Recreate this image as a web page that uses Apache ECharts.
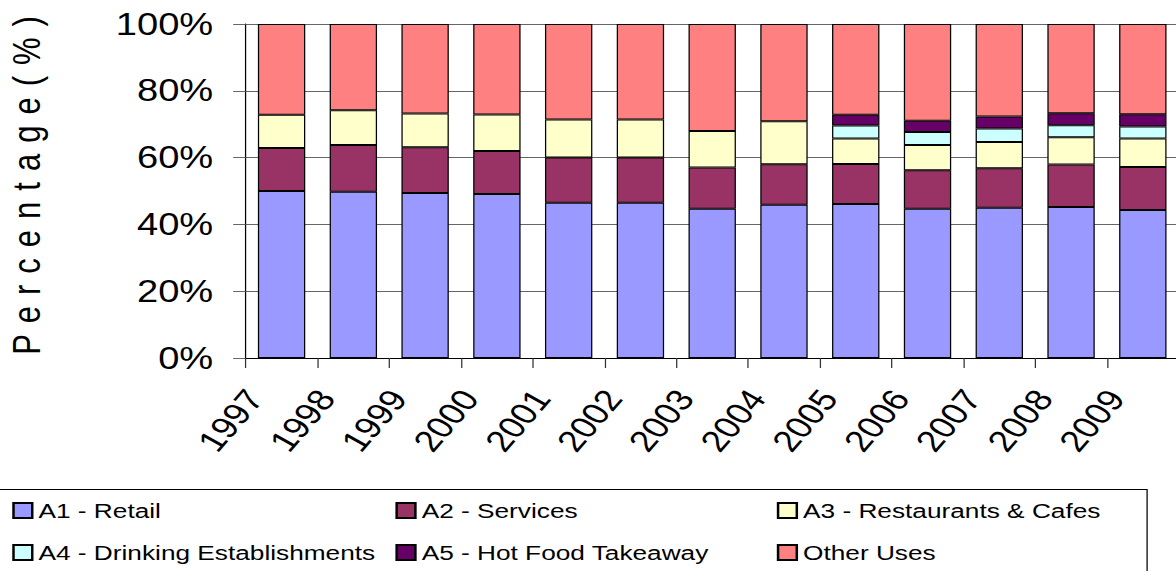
<!DOCTYPE html>
<html>
<head>
<meta charset="utf-8">
<script src="https://cdn.jsdelivr.net/npm/echarts@6/dist/echarts.min.js"></script>
<style>
    html, body { margin: 0; padding: 0; background: #fff; overflow: hidden; }
    /* the source picture is stretched sideways, so the chart is drawn narrow and widened */
    #main { width: 941px; height: 571px; transform: scaleX(1.2497); transform-origin: 0 0; }
    /* spaced-out axis title */
    #main text[style*="31px"] { letter-spacing: 11px; }
</style>
</head>
<body>
<div id="main"></div>
<script>
// 各年份的用途占比 (%)
const years = ['1997', '1998', '1999', '2000', '2001', '2002', '2003', '2004', '2005', '2006', '2007', '2008', '2009']
const retail = [50.0, 49.8, 49.4, 49.1, 46.5, 46.5, 44.7, 45.9, 46.1, 44.7, 45.0, 45.2, 44.3]
const services = [12.9, 14.0, 13.7, 12.9, 13.5, 13.5, 12.3, 12.1, 12.0, 11.5, 11.8, 12.7, 12.9]
const restaurants = [9.9, 10.4, 10.1, 10.9, 11.4, 11.4, 11.0, 12.9, 7.6, 7.6, 7.9, 8.2, 8.5]
const drinking = [null, null, null, null, null, null, null, null, 3.9, 3.9, 4.0, 3.6, 3.6]
const hotFood = [null, null, null, null, null, null, null, null, 3.2, 3.3, 3.6, 3.6, 3.7]
const otherUses = [27.2, 25.8, 26.8, 27.1, 28.6, 28.6, 32.0, 29.1, 27.2, 29.0, 27.7, 26.7, 27.0]
const yTicks = [0, 20, 40, 60, 80, 100]

const seriesNames = ['A1 - Retail', 'A2 - Services', 'A3 - Restaurants & Cafes',
    'A4 - Drinking Establishments', 'A5 - Hot Food Takeaway', 'Other Uses']
const seriesData = [retail, services, restaurants, drinking, hotFood, otherUses]
const seriesColors = ['#9999FF', '#993366', '#FFFFCC', '#CCFFFF', '#660066', '#FF8080']

const font = 'Liberation Sans'
const chart = echarts.init(document.getElementById('main'), null, { renderer: 'svg' })

const legendBase = {
    orient: 'vertical',
    top: 495,
    itemGap: 21,
    itemWidth: 15,
    itemHeight: 15,
    icon: 'rect',
    selectedMode: false,
    textStyle: { fontSize: 21, color: '#000', fontFamily: font }
}

const option = {
    animation: false,
    grid: {
        left: 196.6,
        top: 24,
        width: 746.6,
        height: 334,
        outerBoundsMode: 'none' // 图表右侧本来就被裁掉了
    },
    legend: [
        Object.assign({ left: 4.8, data: [seriesNames[0], seriesNames[3]] }, legendBase),
        Object.assign({ left: 311.4, data: [seriesNames[1], seriesNames[4]] }, legendBase),
        Object.assign({ left: 616.6, data: [seriesNames[2], seriesNames[5]] }, legendBase)
    ],
    // 图例外框
    graphic: [{
        type: 'rect',
        left: -5,
        top: 487,
        shape: { width: 920.4, height: 120 },
        style: { fill: 'none', stroke: '#000', lineWidth: 1 },
        silent: true
    }],
    xAxis: {
        type: 'category',
        data: years,
        axisLine: { lineStyle: { color: '#000', width: 1 } },
        axisTick: { show: true, length: 10, lineStyle: { color: '#333' } },
        axisLabel: {
            interval: 0,
            rotate: 55,
            margin: 4,
            padding: [0, 38, 0, 0],
            fontSize: 30,
            color: '#000',
            fontFamily: font
        },
        splitLine: { show: false }
    },
    yAxis: {
        type: 'value',
        min: yTicks[0],
        max: yTicks[yTicks.length - 1],
        interval: yTicks[1] - yTicks[0],
        name: 'Percentage(%)',
        nameLocation: 'middle',
        nameGap: 160,
        nameTextStyle: { fontSize: 31, color: '#000', fontFamily: font, padding: [0, 0, 0, 22] },
        axisLine: { show: true, lineStyle: { color: '#000', width: 1 } },
        axisTick: { show: true, length: 10, lineStyle: { color: '#666' } },
        axisLabel: {
            margin: 26,
            fontSize: 30.5,
            color: '#000',
            fontFamily: font,
            formatter: '{value}%'
        },
        splitLine: { show: true, lineStyle: { color: '#666', width: 1 } }
    },
    series: seriesNames.map((name, i) => ({
        type: 'bar',
        name: name,
        stack: 'total',
        barWidth: '66%',
        data: seriesData[i],
        itemStyle: {
            color: seriesColors[i],
            borderColor: '#000',
            borderWidth: 1
        },
        emphasis: { disabled: true }
    }))
}
chart.setOption(option)
</script>
</body>
</html>
